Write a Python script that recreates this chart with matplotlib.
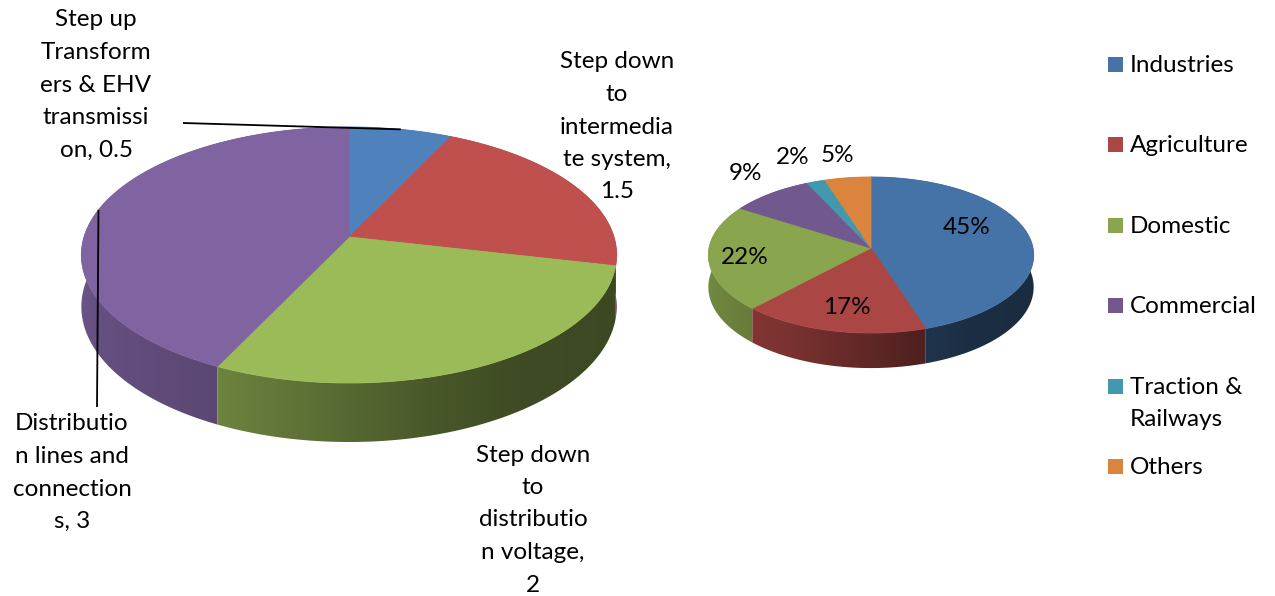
import numpy as np
import matplotlib.pyplot as plt
from matplotlib.colors import to_rgb
from matplotlib.patches import Polygon, Rectangle

plt.rcParams['font.family'] = ['Lato', 'DejaVu Sans']

# losses by stage (left pie)
loss_names = ["Step up\nTransform\ners & EHV\ntransmissi\non",
              "Step down\nto\nintermedia\nte system",
              "Step down\nto\ndistributio\nn voltage",
              "Distributio\nn lines and\nconnection\ns"]
loss_seps = [", ", ",\n", ",\n", ", "]
loss_values = [0.5, 1.5, 2, 3]
loss_colors = ["#4f81bd", "#c0504d", "#9bbb59", "#8064a2"]

# consumption by sector (right pie), percent
sector_names = ["Industries", "Agriculture", "Domestic", "Commercial",
                "Traction &\nRailways", "Others"]
sector_values = [45, 17, 22, 9, 2, 5]
sector_colors = ["#4572a7", "#aa4643", "#89a54e", "#71588f", "#4198af", "#db843d"]

# side-wall lighting vs angle (deg clockwise from top)
shade_deg = [0, 90, 145, 165, 208, 270, 360]
shade_val = [0.38, 0.38, 0.40, 0.47, 0.72, 0.86, 0.86]

LINE_H = 32.5
FS = 17.5


def project(theta, r, pie, drop=0.0):
    cx, cy, R, A, k, D = pie
    u = np.sin(theta) * r
    v = np.cos(theta) * r
    s = 1.0 / (1.0 + k * v)
    return cx + R * u * s, cy - A * v * s + drop * D * s


def wall_gradient(pie, color, x0, x1, ncol=400):
    """one-row image: side colour for each screen column on the front half"""
    k = pie[4]
    lo = np.pi / 2 + np.arcsin(k)
    th = np.linspace(lo, 2 * np.pi - lo, 600)
    xs, _ = project(th, 1, pie)
    cols = np.linspace(x0, x1, ncol)
    th_at = np.interp(cols, xs[::-1], th[::-1])
    sh = np.interp(np.degrees(th_at), shade_deg, shade_val)
    return (np.array(to_rgb(color))[None, :] * sh[:, None])[None, :, :]


def draw_pie(ax, values, colors, pie):
    vals = np.asarray(values, dtype=float)
    edges = np.concatenate([[0], np.cumsum(vals)]) / vals.sum() * 2 * np.pi
    cx, cy, R, A, k, D = pie
    x0, x1 = cx - R * 1.1, cx + R * 1.1
    y0, y1 = cy - A * 1.2, cy + A * 1.3 + D * 1.3
    order = np.argsort([-np.cos(0.5 * (edges[i] + edges[i + 1])) for i in range(len(vals))])
    for i in order:
        tt = np.linspace(edges[i], edges[i + 1], 200)
        xt, yt = project(tt, 1, pie)
        xb, yb = project(tt[::-1], 1, pie, drop=1)
        wall = Polygon(np.column_stack([np.r_[xt, xb], np.r_[yt, yb]]),
                       closed=True, fc='none', ec='none')
        ax.add_patch(wall)
        img = ax.imshow(wall_gradient(pie, colors[i], x0, x1),
                        extent=(x0, x1, y1, y0), aspect='auto',
                        interpolation='bilinear')
        img.set_clip_path(wall)
    # top faces
    for i in range(len(vals)):
        tt = np.linspace(edges[i], edges[i + 1], 150)
        x, y = project(tt, 1, pie)
        pts = np.column_stack([np.r_[cx, x], np.r_[cy, y]])
        ax.add_patch(Polygon(pts, closed=True, fc=colors[i], ec=colors[i], lw=0.6))
    return edges


def draw_lines(ax, x, y_first, text, ha='center'):
    for j, line in enumerate(text.split("\n")):
        ax.text(x, y_first + j * LINE_H, line, ha=ha, va='center',
                fontsize=FS, color='black')


fig = plt.figure(figsize=(12.75, 5.96), dpi=100)
ax = fig.add_axes([0, 0, 1, 1])

# pie geometry: cx, cy, radius, vertical radius, perspective, depth
left_pie = (349, 237, 265, 125.5, 0.1405, 50.7)
right_pie = (871, 248, 162, 77.4, 0.0897, 31.9)

loss_edges = draw_pie(ax, loss_values, loss_colors, left_pie)
draw_pie(ax, sector_values, sector_colors, right_pie)

# left pie data labels
loss_label_pos = [(96, 20), (617, 62), (533, 455), (72, 424)]
for name, sep, val, (lx, ly) in zip(loss_names, loss_seps, loss_values, loss_label_pos):
    draw_lines(ax, lx, ly, f"{name}{sep}{val:g}")

# leader lines from slice edge midpoints
leader_ends = {0: (183, 123), 3: (97, 407)}
for i, (ex, ey) in leader_ends.items():
    mid = 0.5 * (loss_edges[i] + loss_edges[i + 1])
    sx, sy = project(mid, 1, left_pie)
    ax.plot([sx, ex], [sy, ey], color='black', lw=1.3, solid_capstyle='butt')

# right pie percentage labels
pct_pos = [(967, 228), (847, 307), (745, 257), (746, 173), (793, 157), (837, 156)]
for val, (lx, ly) in zip(sector_values, pct_pos):
    ax.text(lx, ly, f"{val:.0f}%", ha='center', va='center', fontsize=FS, color='black')

# legend
for i, (name, c) in enumerate(zip(sector_names, sector_colors)):
    yc = 64.5 + i * 80.4
    ax.add_patch(Rectangle((1108, yc - 7.5), 15, 15, fc=c, ec='none'))
    draw_lines(ax, 1130, yc + 1, name, ha='left')

ax.set_xlim(0, 1275)
ax.set_ylim(596, 0)
ax.axis('off')

fig.savefig("out.png", dpi=100)
